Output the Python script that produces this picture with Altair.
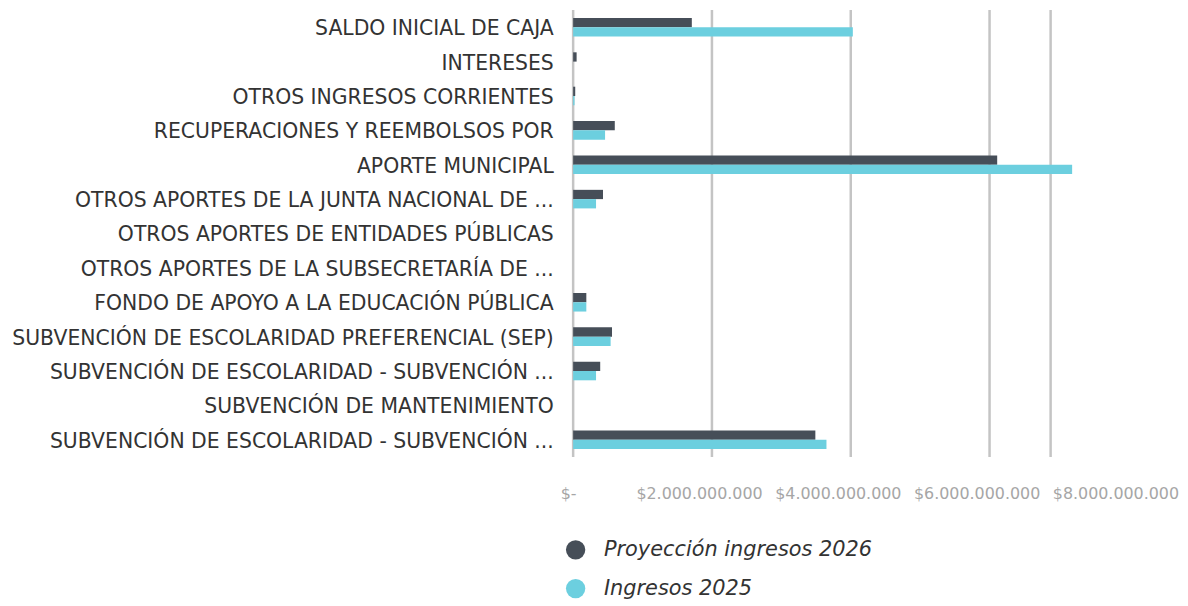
import altair as alt
import pandas as pd

categories = [
    "SALDO INICIAL DE CAJA",
    "INTERESES",
    "OTROS INGRESOS CORRIENTES",
    "RECUPERACIONES Y REEMBOLSOS POR",
    "APORTE MUNICIPAL",
    "OTROS APORTES DE LA JUNTA NACIONAL DE ...",
    "OTROS APORTES DE ENTIDADES PÚBLICAS",
    "OTROS APORTES DE  LA SUBSECRETARÍA DE ...",
    "FONDO DE APOYO A LA EDUCACIÓN PÚBLICA",
    "SUBVENCIÓN DE ESCOLARIDAD PREFERENCIAL (SEP)",
    "SUBVENCIÓN DE ESCOLARIDAD - SUBVENCIÓN ...",
    "SUBVENCIÓN DE MANTENIMIENTO",
    "SUBVENCIÓN DE ESCOLARIDAD - SUBVENCIÓN ...\u200b",
]
proyeccion_2026 = [1.71e9, 0.05e9, 0.03e9, 0.60e9, 6.11e9, 0.43e9, 0.0, 0.0, 0.19e9, 0.56e9, 0.39e9, 0.0, 3.49e9]
ingresos_2025 = [4.03e9, 0.0, 0.02e9, 0.46e9, 7.19e9, 0.33e9, 0.0, 0.0, 0.19e9, 0.54e9, 0.33e9, 0.0, 3.65e9]
series = ["Proyección ingresos 2026", "Ingresos 2025"]
colors = ["#464e58", "#6ccfdf"]
tick_values = [0, 2e9, 4e9, 6e9, 8e9]
grid_values = [0, 2e9, 4e9, 6e9, 6.88e9]

rows = []
for c, a, b in zip(categories, proyeccion_2026, ingresos_2025):
    rows.append({"cat": c, "serie": series[0], "valor": a})
    rows.append({"cat": c, "serie": series[1], "valor": b})
df = pd.DataFrame(rows)
grid_df = pd.DataFrame({"g": grid_values})

FONT = "DejaVu Sans"

xscale = alt.Scale(domain=[0, 8e9], nice=False)
xaxis = alt.Axis(
    title=None,
    values=tick_values,
    grid=False,
    domain=False,
    ticks=False,
    labelPadding=29,
    labelFont=FONT,
    labelFontSize=16,
    labelColor="#a6a6a6",
    labelOffset=-13,
    labelOverlap=False,
    labelBound=False,
    labelFlush=False,
    labelAlign={"condition": {"test": "datum.value == 0", "value": "left"}, "value": "center"},
    labelExpr="datum.value == 0 ? '$-' : '$' + format(datum.value / 1e9, 'd') + '.000.000.000'",
)

grid = alt.Chart(grid_df).mark_rule(color="#c4c4c4", strokeWidth=2.5).encode(
    x=alt.X("g:Q", scale=xscale, axis=xaxis)
)

bars = alt.Chart(df).mark_bar().encode(
    y=alt.Y(
        "cat:N",
        sort=categories,
        scale=alt.Scale(paddingInner=0.46, paddingOuter=0.23),
        axis=alt.Axis(
            title=None,
            domain=False,
            ticks=False,
            labelPadding=20,
            labelOffset=2,
            labelFont=FONT,
            labelFontSize=20.5,
            labelColor="#333333",
            labelLimit=600,
        ),
    ),
    yOffset=alt.YOffset("serie:N", sort=series),
    x=alt.X("valor:Q", scale=xscale, axis=xaxis),
    color=alt.Color(
        "serie:N",
        sort=series,
        scale=alt.Scale(domain=series, range=colors),
        legend=alt.Legend(
            title=None,
            orient="none",
            legendX=-8,
            legendY=533,
            symbolType="circle",
            symbolSize=380,
            symbolStrokeWidth=0,
            labelFont=FONT,
            labelFontSize=21,
            labelFontStyle="italic",
            labelColor="#333333",
            labelOffset=18,
            labelLimit=400,
            rowPadding=17,
            padding=0,
        ),
    ),
)

chart = (
    alt.layer(grid, bars)
    .properties(
        width=559,
        height=450,
        autosize=alt.AutoSizeParams(type="none"),
        padding={"left": 569, "top": 0, "right": 52, "bottom": 148},
    )
    .configure_view(stroke=None)
)

chart.save("out.html", embed_options={"renderer": "svg", "actions": False})
